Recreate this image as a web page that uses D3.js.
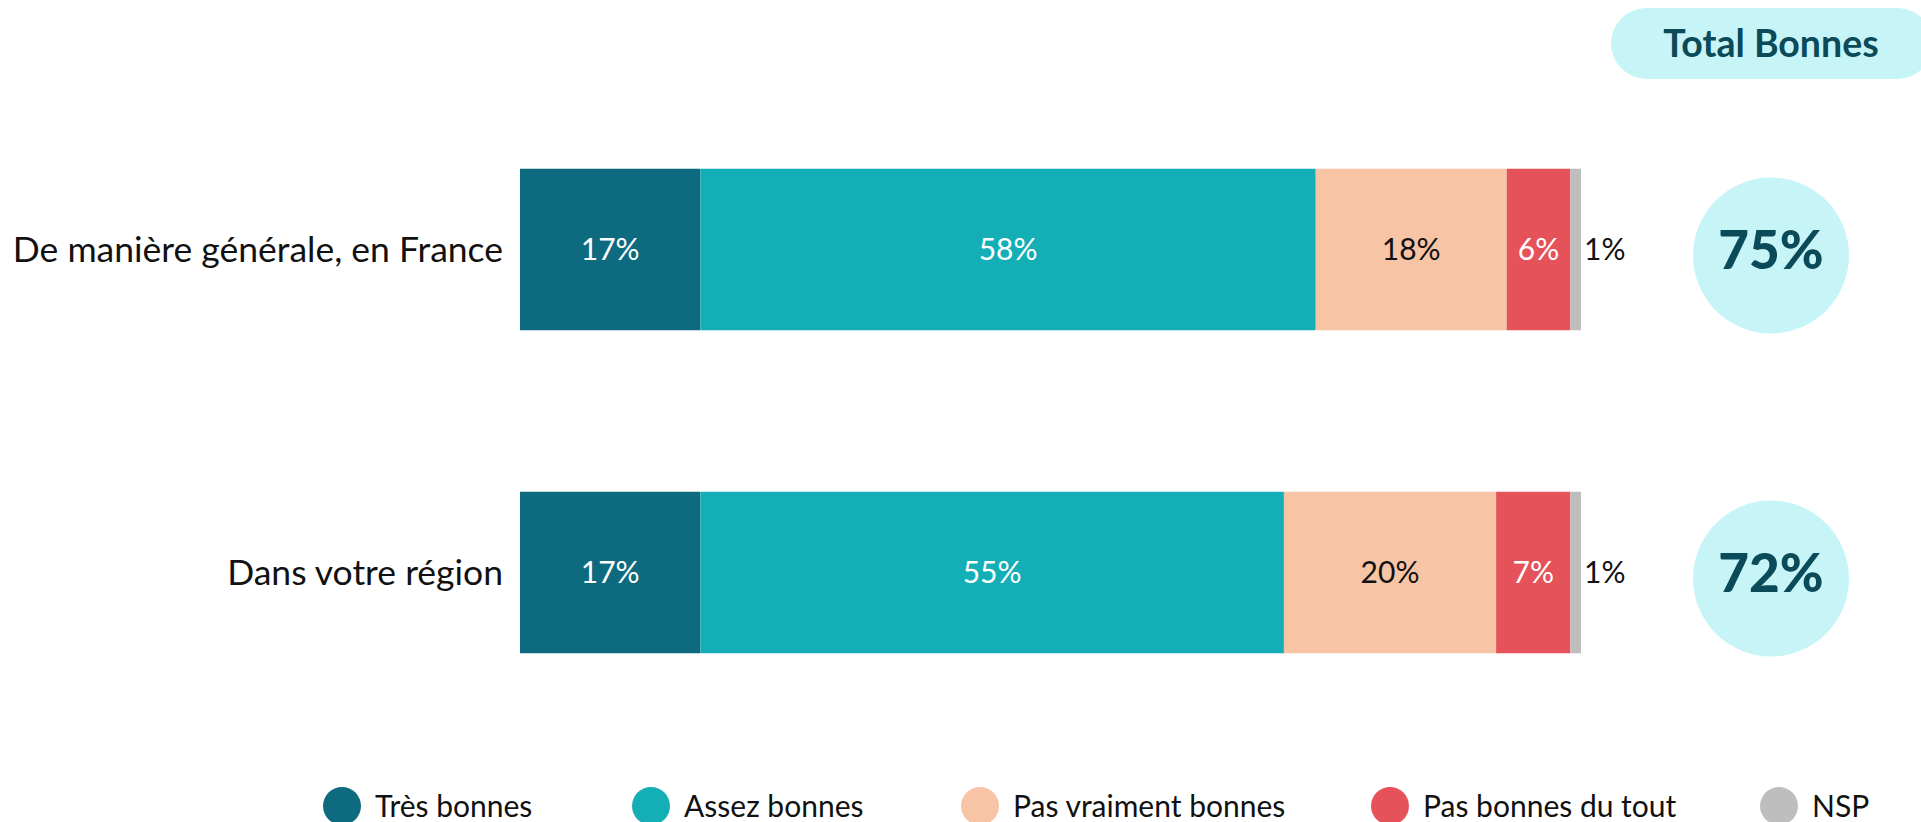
<!DOCTYPE html>
<html>
<head>
<meta charset="utf-8">
<script src="https://cdn.jsdelivr.net/npm/d3@7"></script>
<style>
  html, body { margin: 0; padding: 0; background: #fff; }
  svg { display: block; font-family: Lato, "Open Sans", sans-serif; }
</style>
</head>
<body>
<svg id="chart" width="1921" height="822"></svg>
<script>
// --- data ---
const rows = ["De manière générale, en France", "Dans votre région"];
const categories = ["Très bonnes", "Assez bonnes", "Pas vraiment bonnes", "Pas bonnes du tout", "NSP"];
const tresBonnes = [17, 17];
const assezBonnes = [58, 55];
const pasVraimentBonnes = [18, 20];
const pasBonnesDuTout = [6, 7];
const nsp = [1, 1];
const totalBonnes = [75, 72];

const colors = ["#0e6b7f", "#14aeb7", "#f7c4a5", "#e5525a", "#bebebe"];
const labelColors = ["#fff", "#fff", "#111", "#fff", "#111"];
const darkText = "#0b4a59";
const lightCyan = "#c7f5f7";

// table for d3.stack
const series = [tresBonnes, assezBonnes, pasVraimentBonnes, pasBonnesDuTout, nsp];
const table = rows.map((r, i) => {
    const o = { row: r };
    categories.forEach((c, j) => { o[c] = series[j][i]; });
    return o;
});
const stacked = d3.stack().keys(categories)(table);

const svg = d3.select("#chart");

const x = d3.scaleLinear().domain([0, 100]).range([520, 1581]);
const y = d3.scaleBand().domain(rows).range([88, 734])
    .paddingInner(0.5).paddingOuter(0.25);

// row labels
svg.append("g").selectAll("text")
    .data(rows)
    .enter().append("text")
    .attr("x", 503)
    .attr("y", d => y(d) + y.bandwidth() / 2)
    .attr("dy", "0.36em")
    .attr("text-anchor", "end")
    .attr("font-size", 35.5)
    .attr("fill", "#111")
    .text(d => d);

// bars
const layers = svg.append("g").selectAll("g")
    .data(stacked)
    .enter().append("g")
    .attr("fill", (d, i) => colors[i]);

layers.selectAll("rect")
    .data(d => d)
    .enter().append("rect")
    .attr("x", d => x(d[0]))
    .attr("y", d => y(d.data.row))
    .attr("width", d => x(d[1]) - x(d[0]))
    .attr("height", y.bandwidth());

// value labels
stacked.forEach((layer, k) => {
    const outside = k === categories.length - 1;
    svg.append("g").selectAll("text")
        .data(layer)
        .enter().append("text")
        .attr("x", d => outside ? x(d[1]) + 3 : (x(d[0]) + x(d[1])) / 2)
        .attr("y", d => y(d.data.row) + y.bandwidth() / 2)
        .attr("dy", "0.35em")
        .attr("text-anchor", outside ? "start" : "middle")
        .attr("font-size", 30)
        .attr("fill", labelColors[k])
        .text(d => (d[1] - d[0]) + "%");
});

// total column
const totalX = 1771;

svg.append("rect")
    .attr("x", 1611).attr("y", 8)
    .attr("width", 322).attr("height", 71)
    .attr("rx", 35.5)
    .attr("fill", lightCyan);

svg.append("text")
    .attr("x", totalX).attr("y", 57)
    .attr("text-anchor", "middle")
    .attr("font-size", 37.5)
    .attr("font-weight", 700)
    .attr("fill", darkText)
    .text("Total Bonnes");

const totals = svg.append("g").selectAll("g")
    .data(totalBonnes)
    .enter().append("g");

totals.append("circle")
    .attr("cx", totalX)
    .attr("cy", (d, i) => y(rows[i]) + y.bandwidth() / 2 + 6)
    .attr("r", 78)
    .attr("fill", lightCyan);

totals.append("text")
    .attr("x", totalX)
    .attr("y", (d, i) => y(rows[i]) + y.bandwidth() / 2)
    .attr("dy", "0.36em")
    .attr("text-anchor", "middle")
    .attr("font-size", 53)
    .attr("font-weight", 900)
    .attr("fill", darkText)
    .text(d => d + "%");

// legend
const legendX = [342, 651, 980, 1390, 1779];
const legend = svg.append("g").selectAll("g")
    .data(categories)
    .enter().append("g")
    .attr("transform", (d, i) => `translate(${legendX[i]},806)`);

legend.append("circle")
    .attr("r", 19)
    .attr("fill", (d, i) => colors[i]);

legend.append("text")
    .attr("x", 33)
    .attr("y", 11)
    .attr("font-size", 30)
    .attr("fill", "#111")
    .text(d => d);
</script>
</body>
</html>
